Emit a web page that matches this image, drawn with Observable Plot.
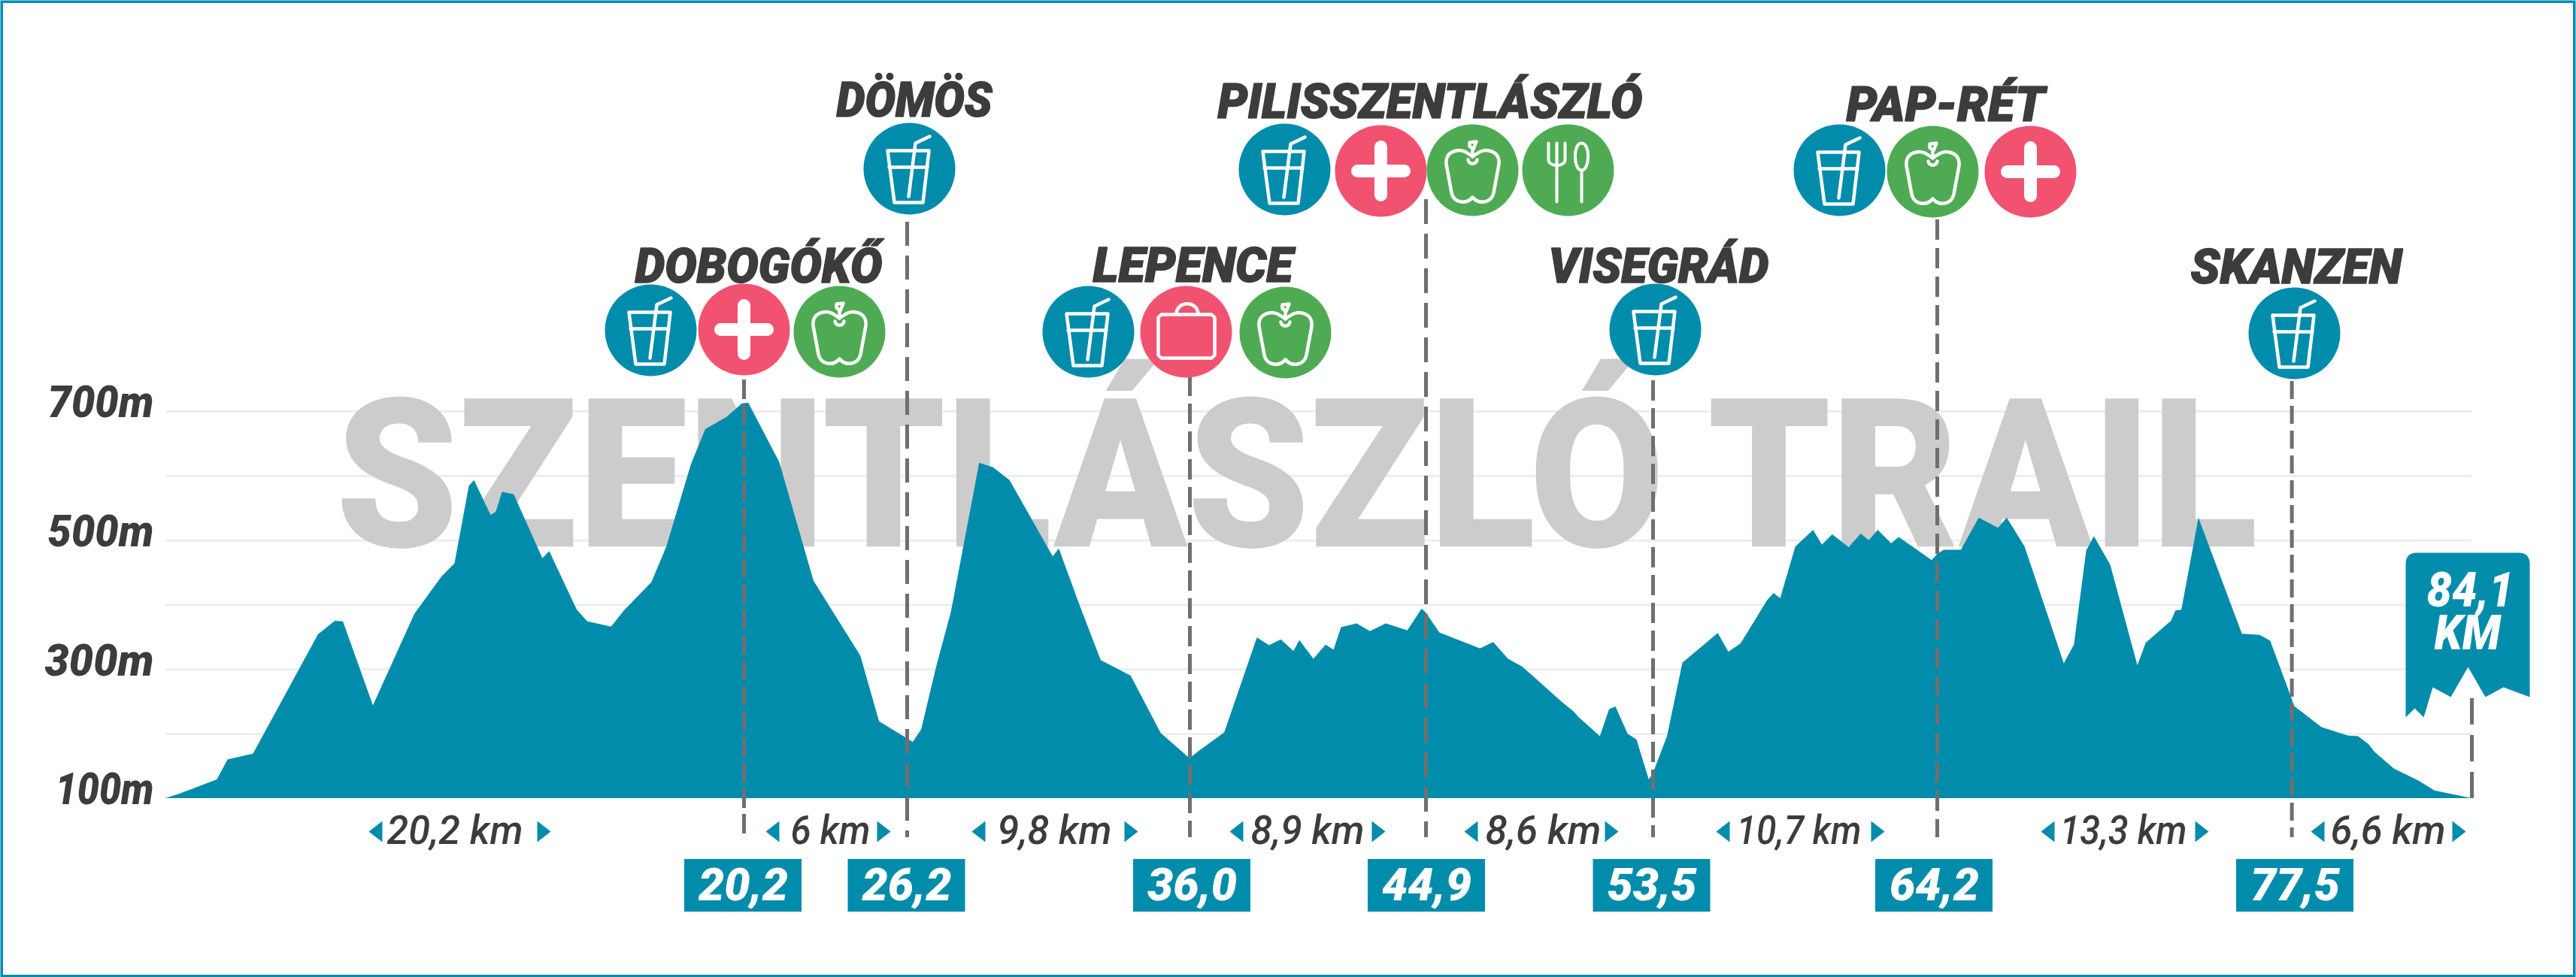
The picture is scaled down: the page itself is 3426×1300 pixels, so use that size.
<!DOCTYPE html>
<html>
<head>
<meta charset="utf-8">
<script src="https://cdn.jsdelivr.net/npm/d3@7"></script>
<script src="https://cdn.jsdelivr.net/npm/@observablehq/plot@0.6"></script>
<style>html,body{margin:0;padding:0;background:#fff}svg{display:block}</style>
</head>
<body>
<div id="chart"></div>
<script>
// ---------- DATA ----------
const profileKm = [0,0.43,1.8,2.17,3.06,5.33,5.92,6.2,7.25,8.7,9.65,10.1,10.6,10.78,11.36,11.54,11.76,12.17,13.17,13.41,14.37,14.74,15.57,16,16.98,17.5,18.36,18.86,19.6,20.14,20.37,21.51,22.77,24.49,25.18,26.2,26.41,26.7,27.23,27.73,28.71,29.19,29.76,31.26,31.47,32.2,32.92,33.96,35,36,36.4,37.31,38.54,39,39.44,39.92,40.14,40.67,41.13,41.43,41.71,42.3,42.8,43.4,44.21,44.75,44.9,45.42,46.96,47.46,48.02,48.56,50.06,50.52,50.66,51.5,51.85,52.09,52.55,52.89,53.35,53.5,54.04,54.62,55.95,56.35,56.81,57.81,58.05,58.3,58.87,59.54,59.87,60.26,60.88,61.33,61.64,61.97,62.48,62.76,64,64.2,64.46,65.1,65.77,66.49,66.82,67.49,68.96,69.34,69.8,70.09,70.7,71.72,72.03,72.98,73.15,73.37,74.01,74.87,75.64,76.31,76.7,77.5,77.59,78.6,79.57,79.94,80.32,80.54,81.25,82.16,82.74,84.1];
const profileElev = [100,106,129,160,169,354,375,374,244,386,444,464,584,593,539,544,575,571,472,483,392,374,366,390,435,490,618,672,691,712,713,621,437,321,219,193,187,207,306,389,620,613,593,475,487,398,314,290,201,162,175,202,349,337,346,328,345,316,338,330,365,371,359,371,360,394,388,357,332,342,316,304,249,234,227,196,238,242,200,191,129,138,196,310,356,327,340,407,418,410,490,516,493,509,489,510,500,516,495,505,469,478,485,485,535,519,535,490,309,338,484,506,462,306,341,375,391,392,535,440,355,353,344,255,243,210,197,196,184,172,146,127,112,100];
const stationNames = ["DOBOGÓKŐ","DÖMÖS","LEPENCE","PILISSZENTLÁSZLÓ","VISEGRÁD","PAP-RÉT","SKANZEN"];
const stationKm = [20.2,26.2,36.0,44.9,53.5,64.2,77.5];
const stationKmLabels = ["20,2","26,2","36,0","44,9","53,5","64,2","77,5"];
const finishKm = 84.1;
const segmentLabels = ["20,2 km","6 km","9,8 km","8,9 km","8,6 km","10,7 km","13,3 km","6,6 km"];
const elevTicks = [100,300,500,700];
const gridTicks = [200,300,400,500,600,700];
const titleText = "SZENTLÁSZLÓ TRAIL";

// ---------- LAYOUT ----------
const W = 3426, H = 1300;
const teal = "#028CAC", pink = "#F15270", green = "#4FAB53", ink = "#3C3C3B";
const xDomain = [0,20.2,26.2,36,44.9,53.5,64.2,77.5,84.1];
const xRange = [220,989,1206,1582,1896,2198,2576,3047.6,3287];
const yDomain = [100,700], yRange = [1062,547];
const px = d3.scaleLinear(xRange, xDomain);
const py = d3.scaleLinear(yRange, yDomain);

const ruleTops = [505,295,500,265,506,292,507];
const ruleDash = ["26,8","32,13","27,10","33,13","27,10","27,11","24,9"];
const ruleRows = stationKm.map((km,i)=>({km,top:ruleTops[i],bottom:1114,dash:ruleDash[i]})).concat([{km:finishKm,top:929,bottom:1064,dash:"35,14"}]);
const nameLayout = [[844,375,329],[1112,154,207],[1453,374,266],[1619,156,565],[2059,375,293],[2455,160,264],[2913,376,281]];
const kmBoxCenters = [988,1205.5,1585,1897,2196.5,2572,3052];
const segLayout = [[514,181,499,723],[1051,106,1027,1175],[1326,152,1301,1504],[1663,151,1644,1833],[1975,154,1956,2143],[2309,166,2291,2497],[2739,169,2723,2928],[3099,153,3082,3270]];
const icons = [
 ["drink",865,439],["aid",989,438],["apple",1116,441],
 ["drink",1209,224],
 ["drink",1447,441],["bag",1577,441],["apple",1709,442],
 ["drink",1708,225],["aid",1836,227],["apple",1958,226],["food",2085,226],
 ["drink",2201,438],
 ["drink",2446,226],["apple",2570,228],["aid",2700,228],
 ["drink",3051,443]
].map(([kind,cx,cy])=>({kind,cx,cy}));
const iconColor = {drink:teal,aid:pink,bag:pink,apple:green,food:green};

// white glyphs drawn through Plot's custom-symbol hook
const glyph = {
 drink(c){ c.moveTo(-29,-24);c.lineTo(26,-24);c.lineTo(18,45);c.lineTo(-20,45);c.closePath();
   c.moveTo(-27,-2);c.lineTo(24,-2);
   c.moveTo(-1,37);c.lineTo(8,-34);c.lineTo(27,-43); },
 aid(c){ c.moveTo(0,-32);c.lineTo(0,32);c.moveTo(-31,0);c.lineTo(31,0); },
 bag(c){ c.moveTo(-33,-23);c.lineTo(34,-23);c.lineTo(38,-19);c.lineTo(38,31);c.lineTo(34,35);c.lineTo(-33,35);c.lineTo(-37,31);c.lineTo(-37,-19);c.closePath();
   c.moveTo(-13,-23);c.bezierCurveTo(-13,-42,16,-42,16,-23); },
 apple(c){ c.moveTo(0,-18);c.bezierCurveTo(-8,-24,-14,-28,-22,-26);c.bezierCurveTo(-32,-24,-36,-17,-35,-8);
   c.lineTo(-28,30);c.bezierCurveTo(-25,44,-8,46,0,36);c.bezierCurveTo(8,46,25,44,28,30);c.lineTo(35,-8);
   c.bezierCurveTo(36,-17,32,-24,22,-26);c.bezierCurveTo(14,-28,8,-24,0,-18);
   c.moveTo(0,-18);c.lineTo(0,-28);c.moveTo(-4,-37);c.lineTo(5,-38);c.lineTo(1,-28);c.lineTo(-4,-32);c.closePath();
   c.moveTo(-6,-14);c.bezierCurveTo(-5,-7,5,-7,6,-14); },
 food(c){ c.moveTo(-26,-36);c.lineTo(-26,-14);c.bezierCurveTo(-26,-4,-4,-4,-4,-14);c.lineTo(-4,-36);
   c.moveTo(-15,-36);c.lineTo(-15,42);
   c.moveTo(18,-36);c.bezierCurveTo(6,-36,7,0,18,0);c.bezierCurveTo(29,0,30,-36,18,-36);
   c.moveTo(18,0);c.lineTo(18,42); }
};
const glyphWidth = {drink:4.5,aid:17,bag:4.5,apple:4.5,food:4};
const sym = f => ({draw: c => f(c)});
const triL = sym(c=>{c.moveTo(9,-14);c.lineTo(-9,0);c.lineTo(9,14);c.closePath();});
const triR = sym(c=>{c.moveTo(-9,-14);c.lineTo(9,0);c.lineTo(-9,14);c.closePath();});
const flag = sym(c=>{
  c.moveTo(-82.5,15);c.quadraticCurveTo(-82.5,0,-67.5,0);c.lineTo(67.5,0);c.quadraticCurveTo(82.5,0,82.5,15);
  c.lineTo(82.5,192);c.lineTo(47.5,179);c.lineTo(23.5,192);c.lineTo(0.5,152);c.lineTo(-22.5,192);c.lineTo(-46.5,179);c.lineTo(-58.5,219);c.lineTo(-70.5,207);c.lineTo(-82.5,219);c.closePath();
});
const border = sym(c=>{c.moveTo(-W/2+1.75,-H/2+1.75);c.lineTo(W/2-2.75,-H/2+1.75);c.lineTo(W/2-2.75,H/2-1.75);c.lineTo(-W/2+1.75,H/2-1.75);c.closePath();});

const textWidths = new Map([[titleText,2556],["700m",141],["500m",141],["300m",145],["100m",131],["84,1",116],["KM",88]]);
stationNames.forEach((n,i)=>textWidths.set(n,nameLayout[i][2]));
segmentLabels.forEach((n,i)=>textWidths.set(n,segLayout[i][1]));
stationKmLabels.forEach(n=>textWidths.set(n,119));

// ---------- TABLES ----------
const profile = profileKm.map((km,i)=>({km,elev:profileElev[i]}));
const F = "Roboto, 'Noto Sans', sans-serif";

const chart = Plot.plot({
  width:W, height:H, marginLeft:220, marginRight:139, marginTop:547, marginBottom:238,
  style:{background:"#fff",overflow:"visible"},
  x:{type:"linear",domain:xDomain,range:xRange,axis:null},
  y:{type:"linear",domain:yDomain,range:yRange,axis:null},
  marks:[
    Plot.gridY(gridTicks,{stroke:"#ECEEED",strokeOpacity:1,strokeWidth:3}),
    Plot.text([titleText],{x:()=>px(446),y:()=>py(726.7),text:d=>d,textAnchor:"start",lineAnchor:"bottom",fontFamily:F,fontWeight:900,fontSize:277,fill:"#CCCCCC"}),
    Plot.areaY(profile,{x:"km",y1:()=>100,y2:"elev",fill:teal,curve:"linear"}),
    Plot.axisY(elevTicks,{anchor:"left",tickSize:0,tickPadding:16,dy:-11,label:null,tickFormat:d=>d+"m",fontFamily:F,fontSize:59,fontWeight:900,fontStyle:"italic",fill:ink}),
    ...ruleRows.map(r=>Plot.ruleX([r],{x:"km",y1:d=>py(d.top),y2:d=>py(d.bottom),stroke:"#6F6F6E",strokeWidth:5,strokeDasharray:r.dash})),
    Plot.dot(icons,{x:d=>px(d.cx),y:d=>py(d.cy),r:61,fill:d=>iconColor[d.kind],stroke:"none"}),
    ...Object.keys(glyph).map(k=>Plot.dot(icons.filter(d=>d.kind===k),{x:d=>px(d.cx),y:d=>py(d.cy),r:60,symbol:sym(glyph[k]),fill:"none",stroke:"#fff",strokeWidth:glyphWidth[k],strokeLinecap:"round",strokeLinejoin:"round"})),
    Plot.text(stationNames,{x:(d,i)=>px(nameLayout[i][0]),y:(d,i)=>py(nameLayout[i][1]),text:d=>d,textAnchor:"start",lineAnchor:"bottom",fontFamily:F,fontWeight:900,fontStyle:"italic",fontSize:65,fill:ink,stroke:ink,strokeWidth:1.5}),
    Plot.text(segmentLabels,{x:(d,i)=>px(segLayout[i][0]),y:()=>py(1122),text:d=>d,textAnchor:"start",lineAnchor:"bottom",fontFamily:F,fontWeight:500,fontStyle:"italic",fontSize:53,fill:ink}),
    Plot.dot(segLayout,{x:d=>px(d[2]),y:()=>py(1106),r:14,symbol:triL,fill:teal,stroke:"none"}),
    Plot.dot(segLayout,{x:d=>px(d[3]),y:()=>py(1106),r:14,symbol:triR,fill:teal,stroke:"none"}),
    Plot.rect(kmBoxCenters,{x1:d=>px(d-78),x2:d=>px(d+78),y1:()=>py(1143),y2:()=>py(1213),fill:teal}),
    Plot.text(stationKmLabels,{x:(d,i)=>px(kmBoxCenters[i]),y:()=>py(1197),text:d=>d,textAnchor:"middle",lineAnchor:"bottom",fontFamily:F,fontWeight:900,fontStyle:"italic",fontSize:60,fill:"#fff"}),
    Plot.dot([finishKm],{x:()=>px(3281.5),y:()=>py(735),r:60,symbol:flag,fill:teal,stroke:"none"}),
    Plot.text(["84,1"],{x:()=>px(3285),y:()=>py(806),text:d=>d,textAnchor:"middle",lineAnchor:"bottom",fontFamily:F,fontWeight:900,fontStyle:"italic",fontSize:65,fill:"#fff"}),
    Plot.text(["KM"],{x:()=>px(3281),y:()=>py(863),text:d=>d,textAnchor:"middle",lineAnchor:"bottom",fontFamily:F,fontWeight:900,fontStyle:"italic",fontSize:65,fill:"#fff"}),
    Plot.dot([0],{x:()=>px(W/2),y:()=>py(H/2),r:60,symbol:border,fill:"none",stroke:teal,strokeWidth:3.5})
  ]
});
d3.select(chart).selectAll("text").each(function(){
  const w = textWidths.get(this.textContent);
  if (w) { this.setAttribute("textLength",w); this.setAttribute("lengthAdjust","spacingAndGlyphs"); }
});
document.getElementById("chart").appendChild(chart);
</script>
</body>
</html>
